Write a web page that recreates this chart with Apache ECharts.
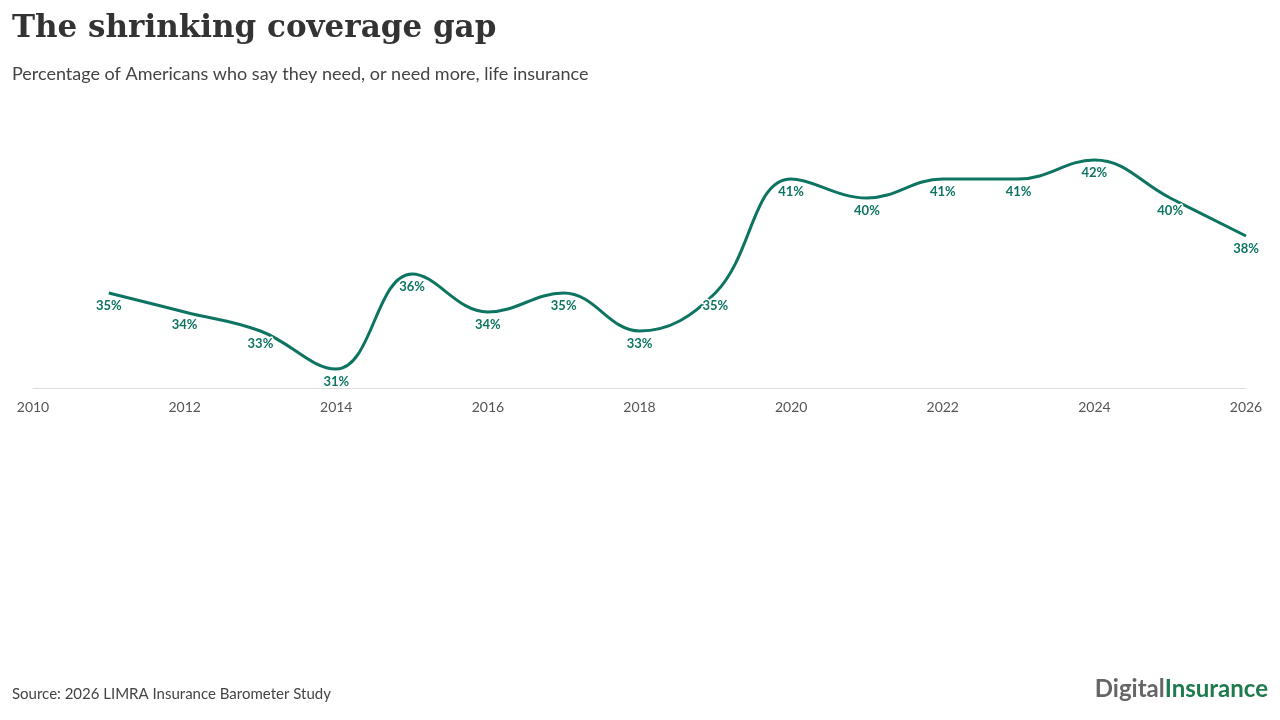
<!DOCTYPE HTML>
<html>
<head>
    <meta http-equiv="content-type" content="text/html;charset=utf-8">
    <script src="https://cdn.jsdelivr.net/npm/echarts@6/dist/echarts.min.js"></script>
    <style>
        body { margin: 0; background: #fff; }
        #main { width: 1280px; height: 720px; }
    </style>
</head>
<body>
    <div id="main"></div>
<script>
    // survey years and share saying they need (more) life insurance
    var years = [2011, 2012, 2013, 2014, 2015, 2016, 2017, 2018, 2019, 2020, 2021, 2022, 2023, 2024, 2025, 2026];
    var values = [35, 34, 33, 31, 36, 34, 35, 33, 35, 41, 40, 41, 41, 42, 40, 38];
    var xTicks = [2010, 2012, 2014, 2016, 2018, 2020, 2022, 2024, 2026];

    var teal = '#0e7462';
    var points = years.map(function (y, i) { return [y, values[i]]; });

    var myChart = echarts.init(document.getElementById('main'));
    var option = {
        animation: false,
        textStyle: { fontFamily: 'Lato' },
        title: [{
            text: 'The shrinking coverage gap',
            left: 7, top: 8,
            textStyle: { fontFamily: 'DejaVu Serif', fontWeight: 'bold', fontSize: 31, color: '#333' }
        }, {
            text: 'Percentage of Americans who say they need, or need more, life insurance',
            left: 7, top: 60,
            textStyle: { fontFamily: 'Lato', fontWeight: 'normal', fontSize: 18, color: '#444' }
        }, {
            text: 'Source: 2026 LIMRA Insurance Barometer Study',
            left: 7, top: 682,
            textStyle: { fontFamily: 'Lato', fontWeight: 'normal', fontSize: 15, color: '#444' }
        }],
        graphic: [{
            type: 'text', right: 12, top: 677,
            style: {
                text: '{a|Digital}{b|Insurance}',
                rich: {
                    a: { fontFamily: 'Lato', fontWeight: 'bold', fontSize: 24, fill: '#666' },
                    b: { fontFamily: 'Lato', fontWeight: 'bold', fontSize: 24, fill: '#1f7a4e' }
                }
            }
        }],
        grid: { left: 33, right: 34, top: 103, bottom: 332 },
        xAxis: {
            type: 'value', min: 2010, max: 2026, interval: 2,
            axisLine: { lineStyle: { color: '#ddd' } },
            axisTick: { show: false },
            splitLine: { show: false },
            axisLabel: {
                color: '#555', fontSize: 14, margin: 12,
                customValues: xTicks,
                formatter: function (v) { return String(v); }
            }
        },
        yAxis: {
            type: 'value', min: 30, max: 45, show: false,
            splitLine: { show: false }
        },
        series: [{
            type: 'line',
            data: points,
            smooth: 0.4,
            showSymbol: true,
            symbolSize: 0,
            lineStyle: { color: teal, width: 3 },
            itemStyle: { color: teal },
            label: {
                show: true, position: 'bottom', distance: 6,
                color: teal, fontWeight: 'bold', fontSize: 13,
                textBorderColor: '#fff', textBorderWidth: 3,
                formatter: function (p) { return p.value[1] + '%'; }
            }
        }]
    };
    myChart.setOption(option);
</script>
</body>
</html>
